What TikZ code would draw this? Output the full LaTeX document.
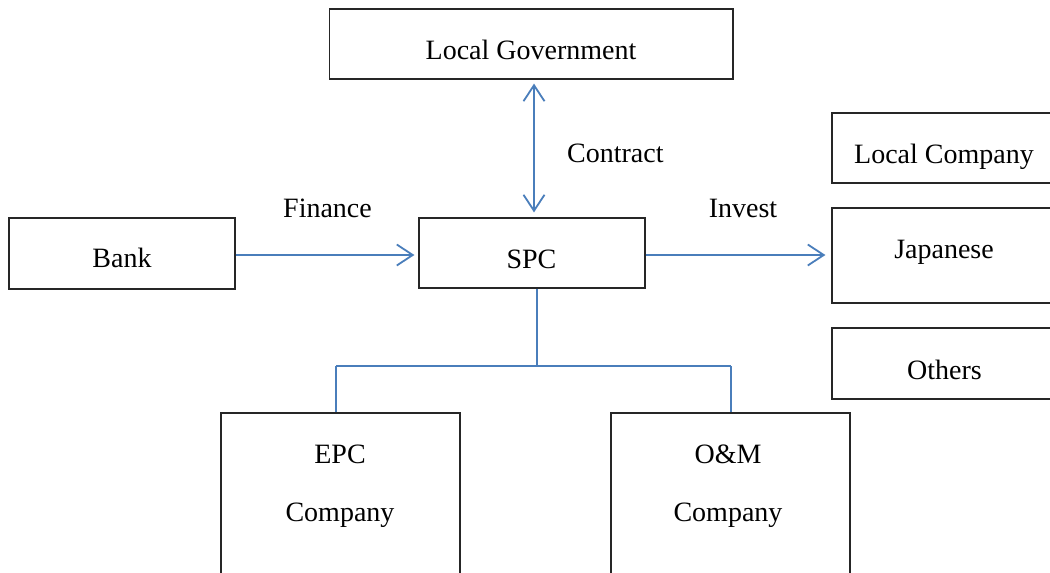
\documentclass[tikz,border=0pt]{standalone}
\usepackage{fontspec}
\setmainfont{Liberation Serif}
\usetikzlibrary{arrows.meta}
\definecolor{lineblue}{HTML}{4A7EBB}
\begin{document}
\begin{tikzpicture}[x=1pt,y=-1pt,
  box/.style={draw=black!85, line width=1.2pt, rectangle, inner sep=0pt},
  txt/.style={anchor=base, inner sep=0pt, font=\fontsize{28}{34}\selectfont},
  conn/.style={draw=lineblue, line width=1.8pt},
  tip/.style={-{Straight Barb[length=16pt,width=21pt,line width=1.8pt]}},
  bitip/.style={{Straight Barb[length=16pt,width=21pt,line width=1.8pt]}-{Straight Barb[length=16pt,width=21pt,line width=1.8pt]}}]
\useasboundingbox (0,0) rectangle (1050,573);
\clip (0,0) rectangle (1050,573);
\fill[white] (0,0) rectangle (1050,573);
% boxes
\node[box, minimum width=403.5pt, minimum height=70pt] (lg) at (531.25,44) {};
\node[box, minimum width=226pt, minimum height=71pt] (bank) at (122,253.5) {};
\node[box, minimum width=226pt, minimum height=70pt] (spc) at (532,253) {};
\node[box, minimum width=224pt, minimum height=70pt] (lc) at (944,148) {};
\node[box, minimum width=224pt, minimum height=95pt] (jap) at (944,255.5) {};
\node[box, minimum width=224pt, minimum height=71pt] (oth) at (944,363.5) {};
\node[box, minimum width=239pt, minimum height=190pt] (epc) at (340.5,508) {};
\node[box, minimum width=239pt, minimum height=190pt] (om) at (730.5,508) {};
% texts
\node[txt] (tlg) at (531,59) {Local Government};
\node[txt] (tbank) at (122,267) {Bank};
\node[txt] (tspc) at (531.5,268) {SPC};
\node[txt] (tlc) at (944,163) {Local Company};
\node[txt] (tjap) at (944,258) {Japanese};
\node[txt] (toth) at (944.5,379) {Others};
\node[txt] (tepc1) at (340,463) {EPC};
\node[txt] (tepc2) at (340,521) {Company};
\node[txt] (tom1) at (728,463) {O\&M};
\node[txt] (tom2) at (728,521) {Company};
\node[txt] (lfin) at (327.5,217) {Finance};
\node[txt] (linv) at (743,217) {Invest};
\node[txt, anchor=base west] (lcon) at (567,162) {Contract};
% connectors
\coordinate (cx) at (534,0);
\draw[conn, bitip, shorten <=4pt, shorten >=5pt] (lg.south -| cx) -- (spc.north -| cx);
\coordinate (fy) at (0,255);
\draw[conn, tip, shorten >=4pt] (bank.east |- fy) -- (spc.west |- fy);
\draw[conn, tip, shorten >=6pt] (spc.east |- fy) -- (jap.west |- fy);
\coordinate (tm) at (537,366);
\coordinate (tl) at (336,366);
\coordinate (tr) at (731,366);
\draw[conn] (spc.south -| tm) -- (tm);
\draw[conn] (tl) -- (tr);
\draw[conn] (tl) -- (tl |- epc.north);
\draw[conn] (tr) -- (tr |- om.north);
\end{tikzpicture}
\end{document}
